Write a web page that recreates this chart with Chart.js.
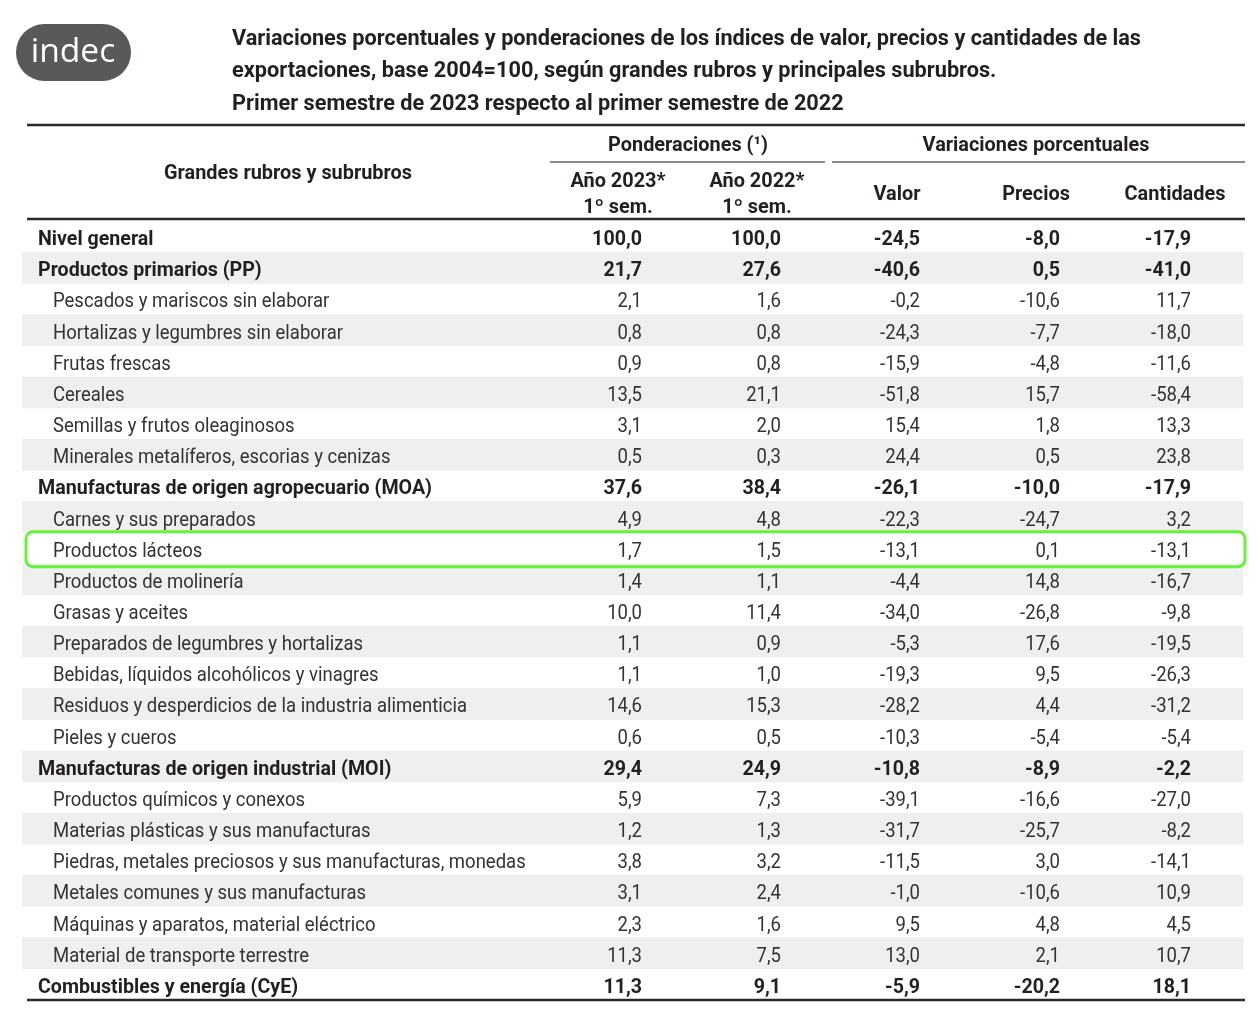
<!DOCTYPE html>
<html>
<head>
<meta charset="utf-8">
<script src="https://cdn.jsdelivr.net/npm/chart.js@4.4.0/dist/chart.umd.min.js"></script>
<style>
  html, body { margin: 0; padding: 0; background: #fff; }
  #marco { width: 1260px; height: 1013px; position: relative; }
</style>
</head>
<body>
<div id="marco"><canvas id="cuadro"></canvas></div>
<script>
// datos del cuadro
const rubros = [
  "Nivel general",
  "Productos primarios (PP)",
  "Pescados y mariscos sin elaborar",
  "Hortalizas y legumbres sin elaborar",
  "Frutas frescas",
  "Cereales",
  "Semillas y frutos oleaginosos",
  "Minerales metalíferos, escorias y cenizas",
  "Manufacturas de origen agropecuario (MOA)",
  "Carnes y sus preparados",
  "Productos lácteos",
  "Productos de molinería",
  "Grasas y aceites",
  "Preparados de legumbres y hortalizas",
  "Bebidas, líquidos alcohólicos y vinagres",
  "Residuos y desperdicios de la industria alimenticia",
  "Pieles y cueros",
  "Manufacturas de origen industrial (MOI)",
  "Productos químicos y conexos",
  "Materias plásticas y sus manufacturas",
  "Piedras, metales preciosos y sus manufacturas, monedas",
  "Metales comunes y sus manufacturas",
  "Máquinas y aparatos, material eléctrico",
  "Material de transporte terrestre",
  "Combustibles y energía (CyE)",
];
// 0 = gran rubro (negrita), 1 = subrubro
const nivel = [0, 0, 1, 1, 1, 1, 1, 1, 0, 1, 1, 1, 1, 1, 1, 1, 1, 0, 1, 1, 1, 1, 1, 1, 0];

const pond2023 = [100.0, 21.7, 2.1, 0.8, 0.9, 13.5, 3.1, 0.5, 37.6, 4.9, 1.7, 1.4, 10.0, 1.1, 1.1, 14.6, 0.6, 29.4, 5.9, 1.2, 3.8, 3.1, 2.3, 11.3, 11.3];
const pond2022 = [100.0, 27.6, 1.6, 0.8, 0.8, 21.1, 2.0, 0.3, 38.4, 4.8, 1.5, 1.1, 11.4, 0.9, 1.0, 15.3, 0.5, 24.9, 7.3, 1.3, 3.2, 2.4, 1.6, 7.5, 9.1];
const valor = [-24.5, -40.6, -0.2, -24.3, -15.9, -51.8, 15.4, 24.4, -26.1, -22.3, -13.1, -4.4, -34.0, -5.3, -19.3, -28.2, -10.3, -10.8, -39.1, -31.7, -11.5, -1.0, 9.5, 13.0, -5.9];
const precios = [-8.0, 0.5, -10.6, -7.7, -4.8, 15.7, 1.8, 0.5, -10.0, -24.7, 0.1, 14.8, -26.8, 17.6, 9.5, 4.4, -5.4, -8.9, -16.6, -25.7, 3.0, -10.6, 4.8, 2.1, -20.2];
const cantidades = [-17.9, -41.0, 11.7, -18.0, -11.6, -58.4, 13.3, 23.8, -17.9, 3.2, -13.1, -16.7, -9.8, -19.5, -26.3, -31.2, -5.4, -2.2, -27.0, -8.2, -14.1, 10.9, 4.5, 10.7, 18.1];

const titulo = [
  "Variaciones porcentuales y ponderaciones de los índices de valor, precios y cantidades de las",
  "exportaciones, base 2004=100, según grandes rubros y principales subrubros.",
  "Primer semestre de 2023 respecto al primer semestre de 2022",
];
const filaDestacada = "Productos lácteos";

// disposición (en unidades del eje x, que coinciden con píxeles del cuadro)
const xIzq = 22, xDer = 1245;
const colDer = [642, 781, 920, 1060, 1191];
const series = [pond2023, pond2022, valor, precios, cantidades];

const fuente = "Roboto, 'Liberation Sans', sans-serif";
const tinta = "#231f20";

const fmt = (v) => v.toFixed(1).replace(".", ",");

// la letra del original es condensada: se comprime en horizontal
function factor(ctx, font, muestra, ancho) {
  ctx.font = font;
  return ancho / ctx.measureText(muestra).width;
}

function texto(ctx, s, x, y, align, sx) {
  ctx.save();
  ctx.translate(x, y);
  ctx.scale(sx, 1);
  ctx.textAlign = align;
  ctx.fillText(s, 0, 0);
  ctx.restore();
}

const cuadroPlugin = {
  id: "cuadro",
  afterDatasetsDraw(chart) {
    const ctx = chart.ctx;
    const x = chart.scales.x;
    const y = chart.scales.y;
    const px = (v) => x.getPixelForValue(v);

    const fNormal = "21px " + fuente;
    const fNegrita = "bold 21px " + fuente;
    const fCabeza = "bold 20px " + fuente;
    const fTitulo = "bold 22px " + fuente;
    const sxN = factor(ctx, fNormal, "Residuos y desperdicios de la industria alimenticia", 414);
    const sxB = factor(ctx, fNegrita, "Manufacturas de origen agropecuario (MOA)", 394);
    const sxC = factor(ctx, fCabeza, "Grandes rubros y subrubros", 248);
    const sxT = factor(ctx, fTitulo, titulo[0], 909);

    ctx.save();
    ctx.textBaseline = "alphabetic";

    // logo
    ctx.fillStyle = "#58595b";
    ctx.beginPath();
    ctx.roundRect(16, 24, 115, 57, 28.5);
    ctx.fill();
    ctx.fillStyle = "#fff";
    ctx.font = "32px 'Open Sans', sans-serif";
    texto(ctx, "indec", 73, 62, "center", 1.05);

    // título
    ctx.fillStyle = tinta;
    ctx.font = fTitulo;
    titulo.forEach((t, i) => texto(ctx, t, 232, 45 + i * 32.3, "left", sxT));

    // líneas del encabezado
    ctx.strokeStyle = "#2a2a2a";
    ctx.lineWidth = 2.5;
    const yFin = y.getPixelForValue(rubros.length - 1) + 15.5;
    [125, 219, yFin].forEach((yy) => {
      ctx.beginPath();
      ctx.moveTo(px(27), yy);
      ctx.lineTo(px(xDer), yy);
      ctx.stroke();
    });

    ctx.strokeStyle = "#8a8a8a";
    ctx.lineWidth = 2;
    [[550, 825], [832, xDer]].forEach(([a, b]) => {
      ctx.beginPath();
      ctx.moveTo(px(a), 162);
      ctx.lineTo(px(b), 162);
      ctx.stroke();
    });

    // textos del encabezado
    ctx.fillStyle = tinta;
    ctx.font = fCabeza;
    texto(ctx, "Ponderaciones (¹)", px(688), 151, "center", sxC);
    texto(ctx, "Variaciones porcentuales", px(1036), 151, "center", sxC);
    texto(ctx, "Grandes rubros y subrubros", px(288), 179, "center", sxC);
    texto(ctx, "Año 2023*", px(618), 187, "center", sxC);
    texto(ctx, "1º sem.", px(618), 213, "center", sxC);
    texto(ctx, "Año 2022*", px(757), 187, "center", sxC);
    texto(ctx, "1º sem.", px(757), 213, "center", sxC);
    texto(ctx, "Valor", px(897), 200, "center", sxC);
    texto(ctx, "Precios", px(1036), 200, "center", sxC);
    texto(ctx, "Cantidades", px(1175), 200, "center", sxC);

    // filas
    rubros.forEach((r, i) => {
      const yy = y.getPixelForValue(i) + 8.5;
      const grueso = nivel[i] === 0;
      const sx = grueso ? sxB : sxN;
      ctx.font = grueso ? fNegrita : fNormal;
      ctx.fillStyle = grueso ? tinta : "#333";
      texto(ctx, r, px(grueso ? 38 : 53), yy, "left", sx);
      series.forEach((s, j) => texto(ctx, fmt(s[i]), px(colDer[j]), yy, "right", sx));
    });

    // fila destacada
    const k = rubros.indexOf(filaDestacada);
    const yc = y.getPixelForValue(k);
    ctx.strokeStyle = "#66f23a";
    ctx.lineWidth = 3;
    ctx.beginPath();
    ctx.roundRect(px(26), yc - 16.5, px(1245) - px(26), 35, 7);
    ctx.stroke();

    ctx.restore();
  },
};

new Chart(document.getElementById("cuadro"), {
  type: "bar",
  data: {
    labels: rubros,
    datasets: [
      {
        label: "fondo",
        // filas sombreadas alternadas
        data: rubros.map((r, i) => (i % 2 === 1 ? [xIzq, 1243] : null)),
        backgroundColor: "#efefef",
        barPercentage: 1,
        categoryPercentage: 1,
        borderWidth: 0,
      },
    ],
  },
  options: {
    indexAxis: "y",
    responsive: true,
    maintainAspectRatio: false,
    animation: false,
    events: [],
    layout: { padding: { left: xIzq, right: 1260 - xDer, top: 221, bottom: 13 } },
    plugins: {
      legend: { display: false },
      tooltip: { enabled: false },
    },
    scales: {
      x: { type: "linear", display: false, min: xIzq, max: xDer },
      y: { type: "category", display: false, offset: true },
    },
  },
  plugins: [cuadroPlugin],
});
</script>
</body>
</html>
